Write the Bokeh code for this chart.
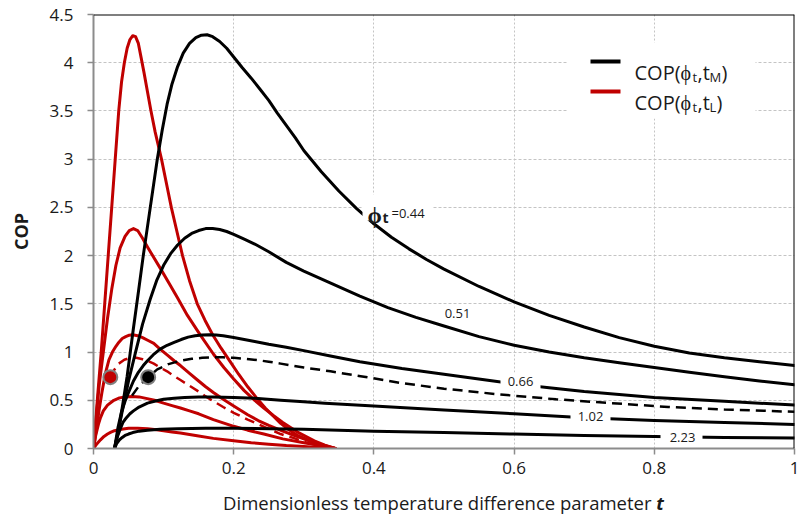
import math
from bokeh.plotting import figure
from bokeh.models import Range1d, FixedTicker, Label, BoxAnnotation, Span, Div
from bokeh.layouts import column
from bokeh.embed import file_html
from bokeh.resources import INLINE

# ---------------- data ----------------
x_ticks = [0.0, 0.2, 0.4, 0.6, 0.8, 1.0]
x_tick_labels = ["0", "0.2", "0.4", "0.6", "0.8", "1"]
y_ticks = [0.0, 0.5, 1.0, 1.5, 2.0, 2.5, 3.0, 3.5, 4.0, 4.5]
y_tick_labels = ["0", "0.5", "1", "1.5", "2", "2.5", "3", "3.5", "4", "4.5"]

phi_values = ["0.44", "0.51", "0.66", "1.02", "2.23"]

# COP(phi_t, t_M)  -- black curves
tM_044 = [0.030, 0.036, 0.042, 0.048, 0.057, 0.064, 0.071, 0.081, 0.091, 0.098, 0.105, 0.112, 0.120, 0.128,
          0.137, 0.146, 0.154, 0.162, 0.170, 0.180, 0.190, 0.200, 0.212, 0.225, 0.237, 0.250, 0.262, 0.275,
          0.288, 0.300, 0.325, 0.350, 0.375, 0.400, 0.425, 0.450, 0.475, 0.500, 0.550, 0.600, 0.650, 0.700,
          0.750, 0.800, 0.850, 0.900, 0.950, 1.000]
copM_044 = [0.00, 0.20, 0.47, 0.75, 1.25, 1.62, 2.00, 2.50, 3.00, 3.30, 3.57, 3.78, 3.96, 4.10,
            4.20, 4.26, 4.285, 4.29, 4.27, 4.22, 4.15, 4.06, 3.95, 3.84, 3.73, 3.61, 3.48, 3.35,
            3.22, 3.09, 2.87, 2.67, 2.49, 2.33, 2.19, 2.07, 1.96, 1.86, 1.68, 1.52, 1.38, 1.26,
            1.15, 1.06, 0.99, 0.94, 0.90, 0.86]

tM_051 = [0.030, 0.040, 0.050, 0.060, 0.070, 0.081, 0.090, 0.100, 0.110, 0.120, 0.130, 0.140, 0.150, 0.160,
          0.170, 0.180, 0.190, 0.200, 0.215, 0.230, 0.250, 0.275, 0.300, 0.340, 0.380, 0.420, 0.460, 0.500,
          0.550, 0.600, 0.650, 0.700, 0.750, 0.800, 0.850, 0.900, 0.950, 1.000]
copM_051 = [0.00, 0.35, 0.70, 1.00, 1.29, 1.55, 1.74, 1.90, 2.02, 2.11, 2.18, 2.23, 2.26, 2.28,
            2.28, 2.27, 2.25, 2.22, 2.17, 2.12, 2.04, 1.93, 1.84, 1.71, 1.58, 1.46, 1.36, 1.27,
            1.16, 1.07, 1.00, 0.94, 0.89, 0.84, 0.79, 0.745, 0.70, 0.66]

tM_066 = [0.030, 0.035, 0.040, 0.045, 0.050, 0.057, 0.064, 0.071, 0.077, 0.085, 0.095, 0.105, 0.115, 0.125,
          0.135, 0.145, 0.155, 0.165, 0.175, 0.185, 0.200, 0.215, 0.230, 0.250, 0.275, 0.300, 0.338, 0.380,
          0.440, 0.500, 0.560, 0.600, 0.650, 0.700, 0.750, 0.800, 0.900, 1.000]
copM_066 = [0.00, 0.22, 0.38, 0.49, 0.58, 0.70, 0.79, 0.86, 0.91, 0.97, 1.03, 1.07, 1.10, 1.13,
            1.155, 1.17, 1.178, 1.18, 1.178, 1.17, 1.15, 1.13, 1.11, 1.08, 1.05, 1.015, 0.96, 0.90,
            0.83, 0.77, 0.71, 0.67, 0.63, 0.59, 0.56, 0.53, 0.49, 0.45]

tM_102 = [0.030, 0.034, 0.038, 0.042, 0.047, 0.052, 0.057, 0.065, 0.077, 0.090, 0.100, 0.115, 0.130, 0.150,
          0.170, 0.200, 0.230, 0.267, 0.300, 0.330, 0.400, 0.500, 0.600, 0.700, 0.800, 0.900, 1.000]
copM_102 = [0.00, 0.12, 0.20, 0.27, 0.32, 0.36, 0.39, 0.43, 0.47, 0.495, 0.51, 0.52, 0.53, 0.535,
            0.535, 0.53, 0.52, 0.50, 0.485, 0.47, 0.44, 0.40, 0.36, 0.32, 0.29, 0.27, 0.25]

tM_223 = [0.030, 0.033, 0.037, 0.041, 0.045, 0.050, 0.056, 0.065, 0.077, 0.095, 0.120, 0.160, 0.200, 0.300,
          0.400, 0.500, 0.600, 0.700, 0.800, 0.900, 1.000]
copM_223 = [0.00, 0.05, 0.09, 0.115, 0.135, 0.15, 0.165, 0.18, 0.19, 0.20, 0.205, 0.21, 0.21, 0.20,
            0.18, 0.165, 0.15, 0.135, 0.125, 0.115, 0.11]

tM_dash = [0.055, 0.065, 0.078, 0.091, 0.107, 0.124, 0.140, 0.155, 0.171, 0.185, 0.200, 0.217, 0.235, 0.250,
           0.267, 0.300, 0.338, 0.381, 0.438, 0.500, 0.580, 0.660, 0.740, 0.820, 0.900, 1.000]
copM_dash = [0.55, 0.65, 0.74, 0.82, 0.875, 0.91, 0.93, 0.94, 0.945, 0.945, 0.94, 0.93, 0.915, 0.90,
             0.88, 0.84, 0.80, 0.75, 0.68, 0.62, 0.56, 0.51, 0.47, 0.43, 0.405, 0.38]

# COP(phi_t, t_L)  -- red curves
tL_044 = [0.000, 0.006, 0.011, 0.016, 0.021, 0.026, 0.031, 0.036, 0.040, 0.044, 0.048, 0.052, 0.056, 0.060,
          0.064, 0.068, 0.072, 0.077, 0.082, 0.088, 0.097, 0.104, 0.111, 0.119, 0.127, 0.137, 0.148, 0.159,
          0.170, 0.182, 0.195, 0.207, 0.220, 0.232, 0.245, 0.256, 0.267, 0.278, 0.290, 0.302, 0.314, 0.330,
          0.345]
copL_044 = [0.00, 0.55, 1.00, 1.50, 2.00, 2.50, 3.00, 3.50, 3.80, 4.00, 4.15, 4.24, 4.28, 4.27,
            4.20, 4.05, 3.90, 3.70, 3.50, 3.28, 3.00, 2.75, 2.50, 2.25, 2.00, 1.74, 1.50, 1.33,
            1.18, 1.04, 0.90, 0.77, 0.64, 0.53, 0.42, 0.34, 0.26, 0.20, 0.14, 0.10, 0.06, 0.025,
            0.00]

tL_051 = [0.000, 0.004, 0.008, 0.014, 0.020, 0.026, 0.032, 0.038, 0.045, 0.051, 0.057, 0.063, 0.070, 0.077,
          0.086, 0.096, 0.108, 0.120, 0.134, 0.152, 0.171, 0.186, 0.200, 0.215, 0.230, 0.243, 0.257, 0.270,
          0.291, 0.315, 0.330, 0.345]
copL_051 = [0.00, 0.33, 0.65, 1.00, 1.35, 1.65, 1.90, 2.08, 2.20, 2.26, 2.28, 2.26, 2.18, 2.09,
            1.98, 1.86, 1.71, 1.56, 1.38, 1.18, 0.98, 0.84, 0.72, 0.60, 0.50, 0.42, 0.34, 0.27,
            0.17, 0.08, 0.035, 0.00]

tL_066 = [0.000, 0.004, 0.008, 0.012, 0.017, 0.022, 0.027, 0.032, 0.036, 0.041, 0.046, 0.051, 0.056, 0.063,
          0.070, 0.078, 0.086, 0.095, 0.105, 0.115, 0.124, 0.137, 0.150, 0.160, 0.171, 0.185, 0.200, 0.220,
          0.235, 0.250, 0.270, 0.285, 0.300, 0.320, 0.345]
copL_066 = [0.00, 0.20, 0.40, 0.58, 0.78, 0.92, 1.00, 1.06, 1.10, 1.14, 1.16, 1.175, 1.18, 1.17,
            1.15, 1.12, 1.09, 1.03, 0.97, 0.91, 0.86, 0.78, 0.70, 0.64, 0.58, 0.51, 0.44, 0.35,
            0.29, 0.24, 0.18, 0.14, 0.10, 0.05, 0.00]

tL_102 = [0.000, 0.003, 0.007, 0.010, 0.014, 0.020, 0.029, 0.037, 0.045, 0.055, 0.065, 0.075, 0.087, 0.100,
          0.112, 0.124, 0.137, 0.150, 0.171, 0.200, 0.220, 0.243, 0.270, 0.300, 0.320, 0.345]
copL_102 = [0.00, 0.13, 0.25, 0.32, 0.39, 0.45, 0.50, 0.525, 0.535, 0.54, 0.535, 0.52, 0.50, 0.47,
            0.445, 0.42, 0.39, 0.36, 0.30, 0.23, 0.19, 0.15, 0.10, 0.06, 0.035, 0.00]

tL_223 = [0.000, 0.005, 0.010, 0.015, 0.020, 0.025, 0.030, 0.040, 0.050, 0.063, 0.077, 0.090, 0.100, 0.112,
          0.124, 0.137, 0.150, 0.171, 0.200, 0.225, 0.250, 0.275, 0.300, 0.320, 0.345]
copL_223 = [0.00, 0.05, 0.09, 0.125, 0.15, 0.17, 0.185, 0.20, 0.21, 0.21, 0.205, 0.195, 0.185, 0.172,
            0.16, 0.145, 0.13, 0.105, 0.08, 0.06, 0.045, 0.03, 0.02, 0.01, 0.00]

tL_dash = [0.024, 0.030, 0.036, 0.044, 0.053, 0.061, 0.070, 0.078, 0.086, 0.095, 0.105, 0.114, 0.124, 0.137,
           0.150, 0.160, 0.171, 0.185, 0.200, 0.220, 0.245, 0.267, 0.285, 0.300, 0.320, 0.345]
copL_dash = [0.74, 0.82, 0.88, 0.92, 0.94, 0.94, 0.925, 0.905, 0.88, 0.84, 0.80, 0.755, 0.71, 0.65,
             0.59, 0.54, 0.49, 0.43, 0.37, 0.30, 0.22, 0.15, 0.11, 0.07, 0.03, 0.00]

# marked points
dot_t = [0.024, 0.078]
dot_cop = [0.74, 0.74]

# ---------------- styling ----------------
FONT = "Open Sans"
BLACK = "#000000"
RED = "#c00000"
GRID = "#c4c4c4"
AXIS = "#8c8c8c"
TXT = "#1a1a1a"

W, H = 801, 490              # figure; x-axis title goes in a Div underneath
L, R, T, B = 93, 794, 14, 448   # frame in pixels

p = figure(width=W, height=H, x_range=Range1d(0, 1), y_range=Range1d(0, 4.5),
           output_backend="svg", toolbar_location=None,
           min_border_left=L, min_border_right=W - R, min_border_top=T, min_border_bottom=H - B)
p.background_fill_color = "white"
p.border_fill_color = "white"
p.outline_line_color = None

def tx(px):
    return (px - L) / (R - L)

def cy(py):
    return (B - py) / (B - T) * 4.5

# axes
p.xaxis.ticker = FixedTicker(ticks=x_ticks)
p.yaxis.ticker = FixedTicker(ticks=y_ticks)
p.xaxis.major_label_overrides = dict(zip(x_ticks, x_tick_labels))
p.yaxis.major_label_overrides = dict(zip(y_ticks, y_tick_labels))
for ax in (p.xaxis[0], p.yaxis[0]):
    ax.axis_line_color = AXIS
    ax.axis_line_width = 2
    ax.major_tick_line_color = AXIS
    ax.major_tick_line_width = 1.5
    ax.major_tick_out = 6
    ax.major_tick_in = 0
    ax.minor_tick_line_color = None
    ax.major_label_text_font = FONT
    ax.major_label_text_font_size = "17px"
    ax.major_label_text_color = TXT
p.xaxis.major_label_standoff = 7
p.yaxis.major_label_standoff = 14

p.yaxis.axis_label = "COP"
p.yaxis.axis_label_text_font = FONT
p.yaxis.axis_label_text_font_size = "18px"
p.yaxis.axis_label_text_font_style = "bold"
p.yaxis.axis_label_text_color = TXT
p.yaxis.axis_label_standoff = 14

p.xgrid.ticker = FixedTicker(ticks=x_ticks)
p.ygrid.ticker = FixedTicker(ticks=y_ticks)
p.xgrid.grid_line_color = GRID
p.xgrid.grid_line_dash = "2 2"
p.ygrid.grid_line_color = GRID
p.ygrid.grid_line_dash = "3 2"

# frame border top / right
p.add_layout(Span(location=1.0, dimension="height", line_color=BLACK, line_width=2))
p.add_layout(Span(location=4.5, dimension="width", line_color=BLACK, line_width=2))

# curves
red_curves = [(tL_044, copL_044), (tL_051, copL_051), (tL_066, copL_066), (tL_102, copL_102), (tL_223, copL_223)]
black_curves = [(tM_044, copM_044), (tM_051, copM_051), (tM_066, copM_066), (tM_102, copM_102), (tM_223, copM_223)]

for t, c in red_curves:
    p.line(t, c, line_color=RED, line_width=3, line_join="round", line_cap="round")
p.line(tL_dash, copL_dash, line_color=RED, line_width=2.5, line_dash="10 6")
for t, c in black_curves:
    p.line(t, c, line_color=BLACK, line_width=3, line_join="round", line_cap="round")
p.line(tM_dash, copM_dash, line_color=BLACK, line_width=2.5, line_dash="10 6")

p.scatter(dot_t, dot_cop, size=14, fill_color=[RED, BLACK], line_color="#808080", line_width=2)

# ---------------- annotations ----------------
def white_box(x0, x1, y0, y1):
    p.add_layout(BoxAnnotation(left=tx(x0), right=tx(x1), top=cy(y0), bottom=cy(y1),
                               fill_color="white", fill_alpha=1.0, line_color=None))

def label(px, py, text, size, style="normal", align="left", baseline="alphabetic", angle=0):
    p.add_layout(Label(x=tx(px), y=cy(py), text=text, text_font=FONT, text_font_size=size,
                       text_font_style=style, text_color=TXT, text_align=align,
                       text_baseline=baseline, angle=angle))

# curve labels
white_box(362, 432, 194, 220)
label(367, 213, "\u03d5", "23px", style="bold")
label(382, 217, "t", "14px", style="bold")
label(391, 212, "=0.44", "13px")

white_box(438, 478, 304, 321)
label(457, 313, phi_values[1], "13px", align="center", baseline="middle")
white_box(500, 540, 372, 390)
label(520, 381, phi_values[2], "13px", align="center", baseline="middle")
white_box(570, 610, 408, 424)
label(590, 416, phi_values[3], "13px", align="center", baseline="middle")
white_box(660, 702, 429, 445)
label(682, 437, phi_values[4], "13px", align="center", baseline="middle")

# legend
white_box(567, 755, 42, 118)
p.add_layout(BoxAnnotation(left=tx(590), right=tx(620), top=cy(59), bottom=cy(63),
                           fill_color=BLACK, fill_alpha=1.0, line_color=None))
p.add_layout(BoxAnnotation(left=tx(590), right=tx(620), top=cy(89), bottom=cy(93),
                           fill_color=RED, fill_alpha=1.0, line_color=None))
for base, sub in ((72, "M"), (102, "L")):
    label(634, base, "COP(\u03d5", "20px")
    label(692, base + 4, "t", "13px")
    label(697, base, ",t", "20px")
    label(709, base + 4, sub, "13px")
    label(709 + (12 if sub == "M" else 7), base, ")", "20px")

# x-axis title (mixed styles) as real HTML text below the figure
xtitle = Div(text="Dimensionless temperature difference parameter <b><i>t</i></b>",
             width=W, height=521 - H, margin=(0, 0, 0, 0),
             styles={"font-family": "'Open Sans'", "font-size": "18.5px", "color": TXT,
                     "text-align": "center", "padding-left": "86px", "box-sizing": "border-box",
                     "line-height": "26px", "background-color": "white"})

layout = column(p, xtitle, spacing=0)
open("out.html", "w").write(file_html(layout, INLINE))
